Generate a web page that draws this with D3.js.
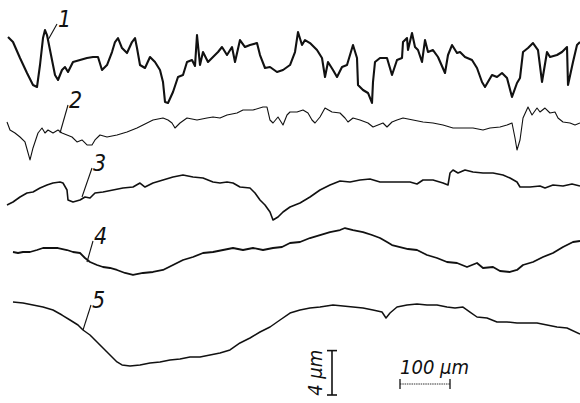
<!DOCTYPE html>
<html>
<head>
<meta charset="utf-8">
<script src="https://cdn.jsdelivr.net/npm/d3@7"></script>
<style>
  body { margin: 0; background: #fff; }
  svg { display: block; }
  text { font-family: "Liberation Sans Narrow", "DejaVu Sans Condensed", sans-serif; font-style: italic; fill: #111; }
</style>
</head>
<body>
<svg id="chart" width="580" height="403"></svg>
<script>
// profile data: [distance along surface (µm), height (µm)]
const profile1 = [[16,2.97],[26,2.52],[40,1.08],[54,-0.27],[66,-1.35],[74,-1.53],[80,0.45],[86,2.88],[90,3.6],[94,3.15],[96,2.7],
  [110,-0.45],[116,-0.9],[124,0],[130,0.27],[136,-0.18],[146,0.72],[160,0.9],[174,1.08],[186,1.17],[196,1.17],[204,0],[214,0.45],
  [224,1.62],[230,2.52],[236,2.88],[244,1.98],[254,1.53],[264,2.52],[270,2.88],[274,1.98],[280,0.45],[290,0.18],[300,1.17],[310,0.72],
  [320,0],[326,-1.08],[330,-2.88],[336,-2.97],[346,-1.98],[356,-0.63],[366,-0.45],[374,0.72],[384,0.9],[390,0.36],[394,3.15],[400,0.45],
  [406,1.62],[416,0.72],[426,1.17],[436,1.62],[444,2.07],[454,1.35],[464,2.07],[470,0.72],[480,2.7],[490,2.07],[500,2.25],[514,2.43],
  [520,1.35],[530,0.18],[540,0.27],[554,-0.18],[566,0],[580,0.45],[590,1.62],[596,3.42],[604,2.25],[610,2.7],[620,2.43],[634,1.8],
  [644,1.08],[650,-0.63],[656,0.72],[666,0],[674,-0.63],[684,0.27],[694,0.45],[706,2.25],[714,1.08],[716,-1.35],[726,-1.8],[736,-2.07],
  [744,-2.97],[746,-1.08],[750,0.72],[760,1.08],[774,1.08],[784,-0.45],[794,0.9],[804,1.08],[806,2.52],[814,2.88],[816,1.8],[824,3.33],
  [830,2.07],[836,1.8],[844,0.72],[850,2.7],[856,1.62],[866,1.8],[876,1.17],[890,-0.27],[896,1.35],[904,2.25],[914,1.53],[920,1.62],
  [930,1.17],[944,0.9],[954,0.18],[964,-1.08],[970,-1.53],[984,-0.45],[994,-0.63],[1004,-0.27],[1014,-0.72],[1024,-2.43],[1034,-1.17],
  [1040,-0.72],[1046,1.62],[1056,1.98],[1066,2.43],[1076,1.8],[1084,-1.08],[1094,1.62],[1100,1.17],[1114,1.35],[1124,1.62],[1134,2.07],
  [1136,-1.35],[1146,0.72],[1154,2.25],[1160,2.52]];

const profile2 = [[14,0.27],[20,-0.45],[30,-0.72],[40,-1.08],[50,-1.53],[60,-3.15],[66,-2.07],[76,-0.72],[84,-0.27],[90,-0.72],[96,-0.45],
  [106,-0.72],[116,-0.45],[124,-0.72],[134,-0.9],[144,-1.08],[154,-1.53],[164,-1.35],[174,-1.8],[184,-1.8],[190,-1.35],[200,-0.9],
  [214,-1.08],[234,-0.9],[254,-0.63],[274,-0.27],[286,0],[306,0.45],[326,0.63],[336,0.45],[344,0.18],[350,-0.27],[360,0.18],[374,0.63],
  [394,0.45],[414,0.63],[426,0.72],[440,0.63],[454,0.9],[474,1.08],[486,1.35],[506,1.35],[526,1.62],[534,1.62],[540,0.45],[546,0.18],
  [556,0.72],[566,0],[574,0.9],[580,1.17],[594,1.17],[606,1.35],[616,1.08],[624,0.45],[630,0.18],[640,0.72],[650,1.53],[664,1.17],
  [680,1.08],[690,0.63],[696,0.27],[706,0.63],[720,0.45],[736,0.18],[746,-0.18],[756,0],[766,0.18],[774,-0.18],[784,0.27],[794,0.45],
  [806,0.63],[826,0.45],[846,0.27],[866,0.18],[886,0],[906,-0.27],[926,-0.27],[946,-0.27],[966,-0.45],[980,-0.27],[1000,-0.18],
  [1014,0],[1024,0.18],[1030,-1.17],[1034,-2.25],[1040,-1.35],[1046,0.63],[1056,1.62],[1064,0.9],[1074,1.53],[1080,1.17],[1090,1.53],
  [1100,1.08],[1110,1.17],[1116,0.63],[1126,0.27],[1140,0.18],[1150,0],[1160,0.18]];

const profile3 = [[14,-1.35],[26,-1.08],[40,-0.63],[54,-0.27],[66,-0.18],[80,0.18],[94,0.45],[106,0.63],[120,0.72],[126,0.63],[134,0],
  [136,-0.9],[146,-1.08],[160,-0.9],[170,-0.63],[180,-0.72],[190,-0.27],[206,-0.18],[226,0],[246,0.18],[266,0.27],[280,0.63],[290,0.27],
  [306,0.63],[326,0.9],[346,1.17],[366,1.35],[386,1.17],[406,1.08],[426,0.72],[440,0.63],[454,0.72],[466,0.63],[480,0.27],[500,0.18],
  [510,-0.27],[520,-0.9],[530,-1.35],[540,-1.98],[546,-2.7],[556,-2.43],[566,-1.98],[580,-1.53],[600,-1.17],[620,-0.63],[640,0],
  [660,0.45],[680,0.81],[700,0.72],[720,0.9],[740,0.99],[760,0.72],[780,0.72],[800,0.72],[820,0.72],[834,0.54],[846,0.9],[866,0.9],
  [886,0.63],[896,0.45],[900,1.53],[906,1.8],[916,1.53],[930,1.8],[946,1.62],[966,1.53],[986,1.53],[1006,1.35],[1020,1.08],[1034,0.72],
  [1040,0.27],[1060,0.27],[1080,0.36],[1090,0.18],[1106,0.45],[1126,0.36],[1144,0.54],[1160,0.36]];

const profile4 = [[26,0.27],[36,0.18],[46,0.27],[60,0.27],[74,0.45],[86,0.63],[100,0.63],[116,0.63],[134,0.45],[146,0.27],[160,0.18],
  [170,-0.27],[180,-0.63],[194,-0.9],[206,-1.08],[220,-1.17],[234,-1.35],[250,-1.62],[266,-1.8],[286,-1.62],[306,-1.53],[326,-1.35],
  [346,-0.9],[366,-0.45],[386,-0.18],[406,0.18],[426,0.27],[446,0.45],[466,0.63],[486,0.45],[506,0.63],[526,0.45],[546,0.63],[564,0.72],
  [580,1.08],[600,1.17],[620,1.53],[640,1.8],[660,2.07],[680,2.25],[690,2.43],[706,2.25],[726,2.07],[744,1.8],[760,1.53],[774,1.17],
  [784,0.9],[800,0.72],[816,0.54],[834,0.45],[854,0],[874,-0.27],[894,-0.63],[914,-0.72],[934,-1.08],[954,-0.72],[966,-1.17],
  [986,-1.08],[1000,-1.44],[1020,-1.53],[1034,-1.35],[1046,-0.9],[1066,-0.63],[1086,-0.18],[1106,0.18],[1126,0.72],[1146,1.17],[1160,1.26]];

const profile5 = [[26,2.52],[46,2.43],[66,2.25],[86,2.07],[106,1.8],[124,1.35],[140,0.9],[156,0.45],[166,0],[180,-0.45],[194,-1.08],
  [206,-1.62],[220,-2.25],[234,-2.88],[244,-3.15],[260,-3.24],[280,-3.15],[300,-2.97],[320,-2.88],[340,-2.7],[360,-2.61],[380,-2.43],
  [400,-2.43],[420,-2.25],[440,-2.07],[460,-1.8],[480,-1.17],[500,-0.72],[520,-0.18],[540,0.27],[560,0.9],[580,1.53],[600,1.8],
  [620,1.98],[640,2.07],[666,2.25],[686,2.16],[706,2.07],[726,1.98],[746,1.8],[764,1.62],[772,1.08],[780,1.53],[794,2.07],[814,2.25],
  [834,2.34],[854,2.25],[874,2.25],[894,2.07],[910,1.98],[926,2.07],[940,1.62],[954,1.17],[974,1.08],[994,0.72],[1014,0.72],
  [1034,0.63],[1054,0.63],[1074,0.63],[1094,0.45],[1114,0.27],[1134,0.18],[1160,-0.36]];

const profiles = [profile1, profile2, profile3, profile4, profile5];
const labels = ["1", "2", "3", "4", "5"];
const labelAt = [96, 120, 164, 174, 166];   // µm along the profile where the leader touches
const scaleBarH = 100;                      // µm
const scaleBarV = 4;                        // µm

// layout
const W = 580, H = 403;
const baseY = [70, 125, 190, 255, 330];     // resting line of each profile
const strokeW = [2.1, 1.1, 1.6, 1.8, 1.5];
const leaderTip = [[9, -16], [8, -28], [10, -29], [6, -21], [8, -25]];  // leader end, offset from touch point
const pxPerUm = 11.1;

const svg = d3.select("#chart");
const x = d3.scaleLinear().domain([0, 1160]).range([0, W]);
const yFor = i => d3.scaleLinear().domain([-1, 1]).range([baseY[i] + pxPerUm, baseY[i] - pxPerUm]);

profiles.forEach((p, i) => {
  const y = yFor(i);
  const line = d3.line().x(d => x(d[0])).y(d => y(d[1]));
  svg.append("path")
    .attr("d", line(p))
    .attr("fill", "none")
    .attr("stroke", "#111")
    .attr("stroke-width", strokeW[i])
    .attr("stroke-linejoin", "round");

  // leader and number
  const bis = d3.bisector(d => d[0]).left;
  const k = Math.min(bis(p, labelAt[i]), p.length - 1);
  const px = x(labelAt[i]), py = y(p[k][1]);
  const tx = px + leaderTip[i][0], ty = py + leaderTip[i][1];
  svg.append("line")
    .attr("x1", px).attr("y1", py).attr("x2", tx).attr("y2", ty)
    .attr("stroke", "#111").attr("stroke-width", 1.1);
  svg.append("text")
    .attr("x", tx + 1).attr("y", ty + 3)
    .attr("font-size", 23)
    .text(labels[i]);
});

// vertical scale bar (4 µm)
const vy = d3.scaleLinear().domain([0, 1]).range([395, 395 - pxPerUm]);
const vx = 332;
svg.append("line").attr("x1", vx).attr("x2", vx).attr("y1", vy(0)).attr("y2", vy(scaleBarV))
  .attr("stroke", "#111").attr("stroke-width", 1.6);
[0, scaleBarV].forEach(v => svg.append("line")
  .attr("x1", vx - 5).attr("x2", vx + 5).attr("y1", vy(v)).attr("y2", vy(v))
  .attr("stroke", "#111").attr("stroke-width", 1.6));
svg.append("text")
  .attr("transform", `translate(${vx - 10},${vy(scaleBarV / 2)}) rotate(-90)`)
  .attr("text-anchor", "middle")
  .attr("font-size", 20)
  .text("4 μm");

// horizontal scale bar (100 µm)
const hx0 = x(800), hx1 = x(800 + scaleBarH), hy = 384;
svg.append("line").attr("x1", hx0).attr("x2", hx1).attr("y1", hy).attr("y2", hy)
  .attr("stroke", "#333").attr("stroke-width", 1).attr("stroke-dasharray", "1.5,0.8");
[hx0, hx1].forEach(v => svg.append("line")
  .attr("x1", v).attr("x2", v).attr("y1", hy - 5).attr("y2", hy + 5)
  .attr("stroke", "#111").attr("stroke-width", 1.3));
svg.append("text")
  .attr("x", hx0).attr("y", 374)
  .attr("font-size", 20)
  .text("100 μm");
</script>
</body>
</html>
